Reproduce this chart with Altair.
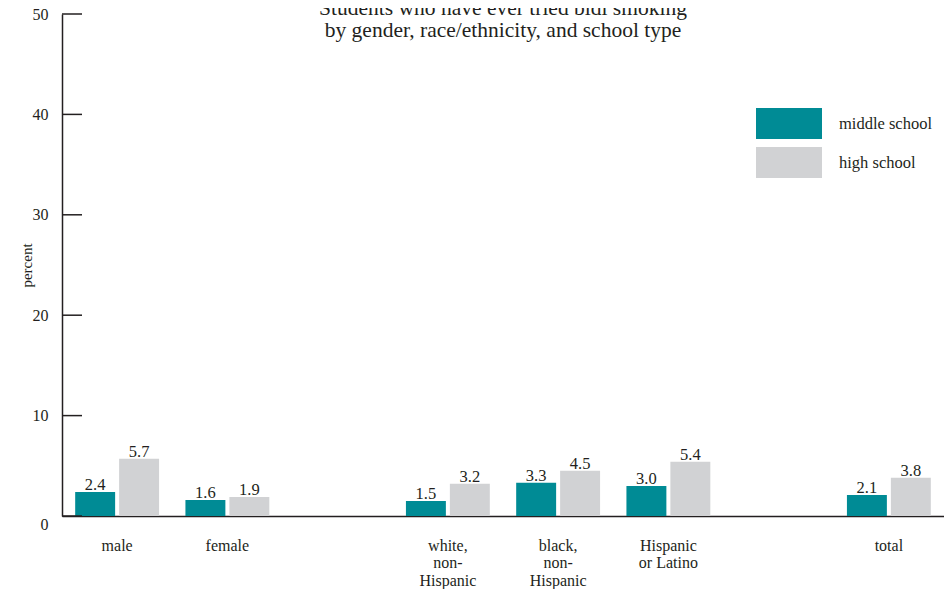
import altair as alt
import pandas as pd

categories = ["male", "female", "gap1", "white,|non-|Hispanic", "black,|non-|Hispanic",
              "Hispanic|or Latino", "gap2", "total"]
groups = ["male", "female", "white,|non-|Hispanic", "black,|non-|Hispanic",
          "Hispanic|or Latino", "total"]
middle_school = [2.4, 1.6, 1.5, 3.3, 3.0, 2.1]
high_school = [5.7, 1.9, 3.2, 4.5, 5.4, 3.8]
series = ["middle school", "high school"]
colors = ["#008B95", "#D1D2D4"]
y_ticks = [0, 10, 20, 30, 40, 50]

rows = []
for g, m, h in zip(groups, middle_school, high_school):
    rows.append({"group": g, "school": series[0], "value": m})
    rows.append({"group": g, "school": series[1], "value": h})
df = pd.DataFrame(rows)
df["label"] = df["value"].map(lambda v: f"{v:.1f}")

FONT = "Liberation Serif"
TEXT = "#231F20"

x_enc = alt.X("group:N", scale=alt.Scale(domain=categories, paddingInner=0, paddingOuter=0),
              axis=alt.Axis(title=None, ticks=False, tickSize=0, domain=True, domainColor=TEXT,
                            domainWidth=1.5, labelAngle=0, labelFont=FONT, labelFontSize=16,
                            labelColor=TEXT, labelPadding=21, labelLineHeight=17.5,
                            labelBaseline="top",
                            labelExpr="indexof(datum.label, 'gap') == 0 ? '' : split(datum.label, '|')"))
xoff = alt.XOffset("school:N", scale=alt.Scale(domain=series, paddingInner=0.0909, paddingOuter=0.3))
y_scale = alt.Scale(domain=[0, 50], nice=False)

bars = alt.Chart(df).mark_bar().encode(
    x=x_enc,
    xOffset=xoff,
    y=alt.Y("value:Q", scale=y_scale,
            axis=alt.Axis(title="percent", values=y_ticks, ticks=False, tickSize=0, grid=False,
                          domainColor=TEXT, domainWidth=1.5, labelFont=FONT, labelFontSize=16,
                          labelColor=TEXT, labelPadding=14,
                          labelBaseline=alt.condition("datum.value == 0", alt.value("top"), alt.value("middle")),
                          titleFont=FONT, titleFontSize=15, titleFontWeight="normal",
                          titleColor=TEXT, titlePadding=-2)),
    color=alt.Color("school:N", scale=alt.Scale(domain=series, range=colors),
                    legend=alt.Legend(title=None, orient="none", legendX=710.5, legendY=93,
                                      symbolType="M-2,-0.9394L2,-0.9394L2,0.9394L-2,0.9394Z",
                                      symbolSize=1089, symbolStrokeWidth=0, symbolOpacity=1,
                                      labelFont=FONT, labelFontSize=16.5, labelColor=TEXT,
                                      labelOffset=33.5, rowPadding=6, padding=0)),
)

labels = alt.Chart(df).mark_text(baseline="alphabetic", dy=-2, font=FONT, fontSize=16.5,
                                 color=TEXT).encode(
    x=alt.X("group:N"),
    xOffset=alt.XOffset("school:N"),
    y=alt.Y("value:Q"),
    text="label:N",
)

ticks = alt.Chart(pd.DataFrame({"tick": y_ticks})).mark_rule(color=TEXT, strokeWidth=1.5).encode(
    y=alt.Y("tick:Q"),
    x=alt.value(0),
    x2=alt.value(20),
)

chart = alt.layer(bars, labels, ticks).properties(
    width=882, height=502,
    autosize=alt.AutoSizeParams(type="none"),
    padding={"left": 54, "top": 6, "right": 0, "bottom": 73},
    title=alt.TitleParams(text=["Students who have ever tried bidi smoking",
                                "by gender, race/ethnicity, and school type"],
                          font=FONT, fontSize=21.5, fontWeight="normal", color=TEXT,
                          anchor="middle", frame="group", offset=-35, lineHeight=22),
).configure_view(stroke=None)

chart.save("out.html", embed_options={"renderer": "svg", "actions": False})
